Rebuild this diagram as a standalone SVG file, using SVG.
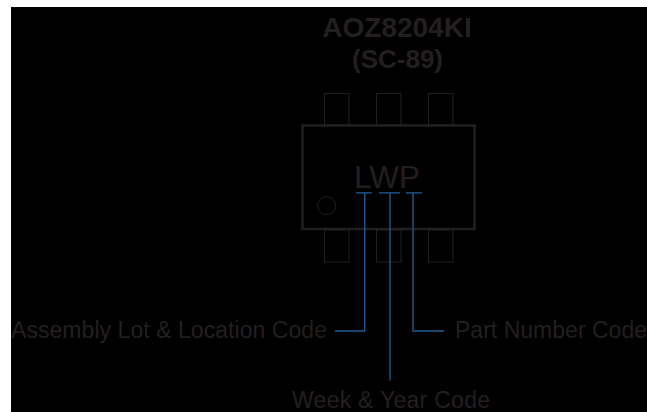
<svg xmlns="http://www.w3.org/2000/svg" width="647" height="412" viewBox="0 0 647 412">
<style>
text{font-family:"Liberation Sans",Arial,sans-serif;fill:#231f20}
.t{font-weight:bold;text-anchor:middle}
.l{font-size:23px}
.p{fill:none;stroke:#231f20;stroke-width:1}
.b{fill:none;stroke:#231f20;stroke-width:2.5}
.c{fill:none;stroke:#1f5f99;stroke-width:1.3}
</style>
<rect width="647" height="412" fill="#fff"/>
<rect x="11" y="7" width="636" height="405" fill="#000"/>
<g id="title">
<text class="t" x="397" y="37" font-size="28">AOZ8204KI</text>
<text class="t" x="397.500" y="68" font-size="26">(SC-89)</text>
</g>
<g id="package">
<rect class="p" x="324.5" y="93.5" width="24.5" height="31"/>
<rect class="p" x="376.5" y="93.5" width="24.5" height="31"/>
<rect class="p" x="428.5" y="93.5" width="24.5" height="31"/>
<rect class="p" x="324.5" y="230" width="24.5" height="32"/>
<rect class="p" x="376.5" y="230" width="24.5" height="32"/>
<rect class="p" x="428.5" y="230" width="24.5" height="32"/>
<rect class="b" x="302.5" y="125.5" width="172" height="103.5"/>
<circle class="p" cx="326.7" cy="205.7" r="9"/>
<text x="354" y="188" font-size="31.500" textLength="66">LWP</text>
</g>
<g id="connectors">
<path class="c" d="M356 192.8H372M379 192.8H400M406 192.8H422"/>
<path class="c" d="M364.7 192.8V331H335"/>
<path class="c" d="M390 192.8V380.500"/>
<path class="c" d="M413 192.8V331H444"/>
</g>
<g id="label-lot"><text class="l" x="11" y="338" textLength="316">Assembly Lot &amp; Location Code</text></g>
<g id="label-part"><text class="l" x="455" y="338" textLength="192">Part Number Code</text></g>
<g id="label-week"><text class="l" x="292" y="408" textLength="198">Week &amp; Year Code</text></g>
</svg>
